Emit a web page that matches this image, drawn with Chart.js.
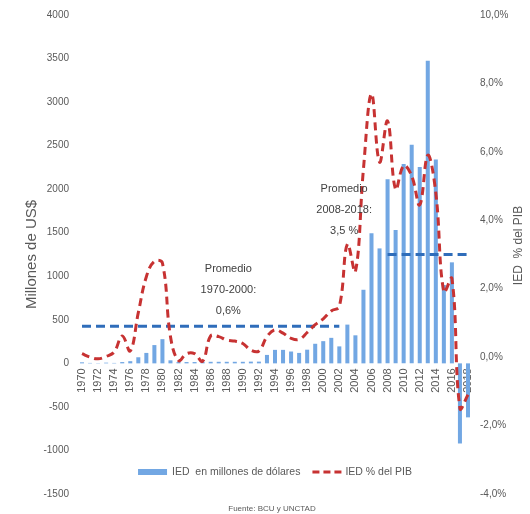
<!DOCTYPE html>
<html lang="es">
<head>
<meta charset="utf-8">
<title>IED en Uruguay 1970-2018</title>
<script src="https://cdn.jsdelivr.net/npm/chart.js@4.4.1/dist/chart.umd.min.js"></script>
<style>
  html, body { margin: 0; padding: 0; background: #ffffff; }
  #contenedor { position: relative; width: 530px; height: 514px; }
</style>
</head>
<body>
<div id="contenedor"><canvas id="iedChart" width="530" height="514"></canvas></div>
<script>
// Años (categorías)
const anios = [
    '1970', '1971', '1972', '1973', '1974', '1975', '1976', '1977', '1978', '1979',
    '1980', '1981', '1982', '1983', '1984', '1985', '1986', '1987', '1988', '1989',
    '1990', '1991', '1992', '1993', '1994', '1995', '1996', '1997', '1998', '1999',
    '2000', '2001', '2002', '2003', '2004', '2005', '2006', '2007', '2008', '2009',
    '2010', '2011', '2012', '2013', '2014', '2015', '2016', '2017', '2018'
];

// IED en millones de dólares
const iedMillones = [
    12, 5, 3, 8, 5, 15, 25, 70, 120, 210,
    278, 35, 15, 15, 15, 15, 18, 18, 18, 18,
    18, 20, 20, 97, 155, 155, 136, 120, 157, 225,
    255, 293, 195, 445, 322, 845, 1495, 1320, 2115, 1530,
    2290, 2510, 2255, 3475, 2340, 900, 1160, -920, -620
];

// IED % del PIB
const iedPib = [
    0.1, 0.0, -0.05, 0.02, 0.15, 0.62, 0.18, 1.3, 2.35, 2.8,
    2.75, 0.6, -0.1, 0.1, 0.1, -0.12, 0.62, 0.6, 0.5, 0.47,
    0.4, 0.2, 0.18, 0.6, 0.8, 0.7, 0.55, 0.52, 0.72, 0.95,
    1.12, 1.35, 1.48, 3.3, 2.5, 5.5, 7.7, 5.7, 6.9, 4.9,
    5.6, 5.3, 4.45, 5.9, 4.8, 1.9, 2.3, -1.5, -1.1
];

// Líneas de promedio (tramo y nivel donde están dibujadas)
const promedio1 = { desde: '1970', hasta: '2002', nivel: 0.9 };
const promedio2 = { desde: '2008', hasta: '2018', nivel: 3.0 };

// Ejes
const ejeIzq = { min: -1500, max: 4000, paso: 500 };
const ejeDer = { min: -4, max: 10, paso: 2 };

// Textos
const anotaciones = [
    { x: 18.2, y: 1.95, lineas: ['Promedio', '1970-2000:', '0,6%'] },
    { x: 32.6, y: 4.3, lineas: ['Promedio', '2008-2018:', '3,5 %'] }
];
const fuente = 'Fuente: BCU y UNCTAD';

const colorBarra = '#72A7E3';
const colorLinea = '#C73232';
const colorPromedio = '#2F6DBA';
const colorTexto = '#595959';
const familia = '"Liberation Sans", Arial, sans-serif';

function serieTramo(t) {
    const i0 = anios.indexOf(t.desde);
    const i1 = anios.indexOf(t.hasta);
    return anios.map((a, i) => (i >= i0 && i <= i1 ? t.nivel : null));
}

// Leyenda, fuente, anotaciones y título del eje derecho
const textosPlugin = {
    id: 'textos',
    afterDraw(chart) {
        const { ctx, chartArea, scales } = chart;
        ctx.save();

        ctx.fillStyle = '#404040';
        ctx.font = '11px ' + familia;
        ctx.textAlign = 'center';
        ctx.textBaseline = 'middle';
        anotaciones.forEach(a => {
            const x = scales.x.getPixelForValue(a.x);
            const y = scales.y1.getPixelForValue(a.y);
            a.lineas.forEach((t, i) => ctx.fillText(t, x, y + (i - 1) * 21));
        });

        // leyenda
        const ds = chart.data.datasets;
        const cx = (chartArea.left + chartArea.right) / 2;
        const ly = chartArea.bottom - 22;
        ctx.font = '10.5px ' + familia;
        ctx.fillStyle = colorTexto;
        ctx.textAlign = 'left';
        const w1 = ctx.measureText(ds[0].label).width;
        const w2 = ctx.measureText(ds[1].label).width;
        const total = 29 + 5 + w1 + 12 + 30 + 3 + w2;
        let x = cx - total / 2;
        ctx.fillStyle = colorBarra;
        ctx.fillRect(x, ly - 3, 29, 6);
        x += 34;
        ctx.fillStyle = colorTexto;
        ctx.fillText(ds[0].label, x, ly);
        x += w1 + 12;
        ctx.strokeStyle = colorLinea;
        ctx.lineWidth = 3;
        ctx.setLineDash([7, 4]);
        ctx.beginPath();
        ctx.moveTo(x, ly);
        ctx.lineTo(x + 30, ly);
        ctx.stroke();
        ctx.setLineDash([]);
        x += 33;
        ctx.fillText(ds[1].label, x, ly);

        // fuente
        ctx.font = '8px ' + familia;
        ctx.textAlign = 'center';
        ctx.fillText(fuente, cx - 3, chartArea.bottom + 15);

        // título del eje derecho
        ctx.font = '12px ' + familia;
        ctx.translate(519, (chartArea.top + chartArea.bottom) / 2 - 9);
        ctx.rotate(-Math.PI / 2);
        ctx.fillText('IED  % del PIB', 0, 0);

        ctx.restore();
    }
};

const ctx = document.getElementById('iedChart').getContext('2d');
const grafico = new Chart(ctx, {
    data: {
        labels: anios,
        datasets: [
            {
                type: 'bar',
                label: 'IED  en millones de dólares',
                data: iedMillones,
                yAxisID: 'y',
                backgroundColor: colorBarra,
                barPercentage: 0.5,
                categoryPercentage: 1,
                order: 3
            },
            {
                type: 'line',
                label: 'IED % del PIB',
                data: iedPib,
                yAxisID: 'y1',
                borderColor: colorLinea,
                borderWidth: 3,
                borderDash: [8, 5],
                pointRadius: 0,
                tension: 0.4,
                fill: false,
                order: 1
            },
            {
                type: 'line',
                label: 'Promedio 1970-2000',
                data: serieTramo(promedio1),
                yAxisID: 'y1',
                borderColor: colorPromedio,
                borderWidth: 3,
                borderDash: [9, 5],
                pointRadius: 0,
                spanGaps: false,
                order: 2
            },
            {
                type: 'line',
                label: 'Promedio 2008-2018',
                data: serieTramo(promedio2),
                yAxisID: 'y1',
                borderColor: colorPromedio,
                borderWidth: 3,
                borderDash: [9, 5],
                pointRadius: 0,
                spanGaps: false,
                order: 2
            }
        ]
    },
    options: {
        responsive: false,
        animation: false,
        layout: { padding: { top: 9, bottom: 20, left: 0, right: 0 } },
        plugins: {
            legend: { display: false },
            tooltip: { enabled: false }
        },
        scales: {
            x: {
                type: 'category',
                position: { y: 0 },
                grid: { display: false, drawTicks: false },
                border: { display: false },
                ticks: {
                    autoSkip: false,
                    minRotation: 90,
                    maxRotation: 90,
                    padding: 5,
                    color: colorTexto,
                    font: { size: 11, family: familia },
                    callback: (v, i) => (i % 2 === 0 ? anios[i] : '')
                }
            },
            y: {
                position: 'left',
                min: ejeIzq.min,
                max: ejeIzq.max,
                grid: { display: false, drawTicks: false },
                border: { display: false },
                ticks: {
                    stepSize: ejeIzq.paso,
                    padding: 9,
                    color: colorTexto,
                    font: { size: 10, family: familia },
                    callback: v => String(v)
                },
                title: {
                    display: true,
                    text: 'Millones de US$',
                    color: colorTexto,
                    font: { size: 15, family: familia },
                    padding: { top: 23, bottom: 0 }
                },
                afterFit: s => { s.width = 78; }
            },
            y1: {
                position: 'right',
                min: ejeDer.min,
                max: ejeDer.max,
                grid: { display: false, drawTicks: false },
                border: { display: false },
                ticks: {
                    stepSize: ejeDer.paso,
                    padding: 8,
                    color: colorTexto,
                    font: { size: 10, family: familia },
                    callback: v => v.toFixed(1).replace('.', ',') + '%'
                },
                afterFit: s => { s.width = 58; }
            }
        }
    },
    plugins: [textosPlugin]
});
</script>
</body>
</html>
